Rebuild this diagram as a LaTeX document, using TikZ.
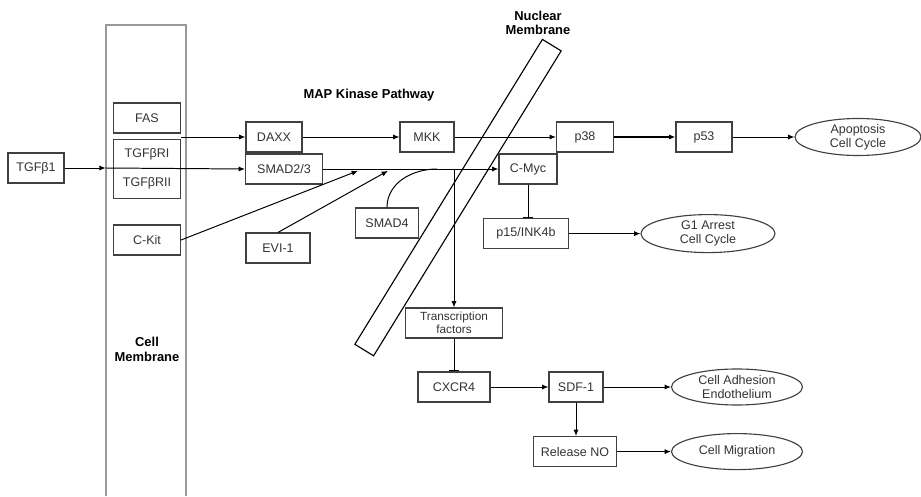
\documentclass[tikz,border=0pt]{standalone}
\usepackage{fontspec}
\setmainfont{Liberation Sans}
\usetikzlibrary{arrows.meta, shapes.geometric}

\begin{document}
\begin{tikzpicture}[
    font=\fontsize{8.9}{10}\selectfont,
    >={Latex[length=1.6mm, width=1.3mm]},
    box/.style={draw=black!75, line width=0.8pt, minimum height=0.75cm, inner sep=1pt, text=black!80},
    oval/.style={ellipse, draw=black!75, line width=0.8pt, minimum width=3.275cm, minimum height=0.9cm, inner sep=0pt, align=center, text=black!80},
    heading/.style={font=\fontsize{9.2}{10.5}\selectfont\bfseries, align=center},
    link/.style={line width=0.7pt},
    stop/.style={line width=0.7pt, -{Bar[width=2.6mm]}},
]
    \useasboundingbox (0, 0) rectangle (23.025, 12.4);

    % membranes
    \node[minimum width=2cm, minimum height=11.775cm, inner sep=0pt] (cellmem) at (3.65, 5.8875) {};
    \draw[black!40, line width=1.6pt] (cellmem.south west) -- (cellmem.north west) -- (cellmem.north east) -- (cellmem.south east);
    \node[heading] (cellmemtext) at (3.675, 3.67) {Cell\\Membrane};
    \node[draw, rotate=58.4, minimum width=8.95cm, minimum height=0.55cm, line width=0.8pt] (nucmem) at (11.45, 7.46) {};
    \node[heading] (nucmemtext) at (13.45, 11.83) {Nuclear\\Membrane};
    \node[heading] (maptext) at (9.225, 10.02) {MAP Kinase Pathway};

    \node[box, minimum width=1.4cm] (tgfb1) at (0.9, 8.2) {TGFβ1};
    \node[box, minimum width=1.675cm] (fas) at (3.675, 9.45) {FAS};
    \node[box, minimum width=1.675cm, minimum height=1.475cm, align=center] (tgfbr) at (3.675, 8.175) {TGFβRI\\[10.5pt]TGFβRII};
    \node[box, minimum width=1.675cm] (ckit) at (3.675, 6.4) {C-Kit};

    \node[box, minimum width=1.4cm] (daxx) at (6.85, 8.975) {DAXX};
    \node[box, minimum width=1.925cm] (smad23) at (7.1, 8.175) {SMAD2/3};
    \node[box, minimum width=1.6cm] (evi1) at (6.95, 6.2) {EVI-1};
    \node[box, minimum width=1.575cm] (smad4) at (9.675, 6.825) {SMAD4};
    \node[box, minimum width=1.35cm] (mkk) at (10.675, 8.975) {MKK};

    \node[box, minimum width=1.425cm] (p38) at (14.625, 8.975) {p38};
    \node[box, minimum width=1.4cm] (p53) at (17.6, 8.975) {p53};
    \node[oval, minimum width=3.15cm, minimum height=0.925cm] (apoptosis) at (21.45, 8.975) {Apoptosis\\Cell Cycle};
    \node[box, minimum width=1.45cm] (cmyc) at (13.2, 8.175) {C-Myc};
    \node[box, minimum width=2.125cm] (p15) at (13.15, 6.56) {p15/INK4b};
    \node[oval, minimum width=3.35cm, minimum height=0.95cm] (g1arrest) at (17.7, 6.56) {G1 Arrest\\Cell Cycle};

    \node[box, minimum width=2.425cm, align=center, font=\fontsize{8.4}{9.3}\selectfont] (tfactors) at (11.35, 4.325) {Transcription\\factors};
    \node[box, minimum width=1.8cm] (cxcr4) at (11.35, 2.725) {CXCR4};
    \node[box, minimum width=1.35cm] (sdf1) at (14.4, 2.725) {SDF-1};
    \node[oval] (adhesion) at (18.425, 2.725) {Cell Adhesion\\Endothelium};
    \node[box, minimum width=2.075cm] (releaseno) at (14.375, 1.11) {Release NO};
    \node[oval] (migration) at (18.425, 1.11) {Cell Migration};

    \coordinate (ckitin) at (8.95, 8.13);
    \coordinate (evi1in) at (9.7, 8.13);
    \coordinate (smad4in) at (10.925, 8.175);
    \coordinate (split) at (11.35, 8.175);

    \draw[link, ->] (tgfb1.east) -- (cellmem.west |- tgfb1.east);
    \draw[link, ->] (cellmem.west |- tgfb1.east) -- (smad23.west);
    \draw[link, ->] (fas.east |- daxx.west) -- (daxx.west);
    \draw[link, ->] (daxx.east) -- (mkk.west);
    \draw[link, ->] (mkk.east) -- (p38.west);
    \draw[line width=1.1pt, ->] (p38.east) -- (p53.west);
    \draw[link, ->] (p53.east) -- (apoptosis.west);

    \draw[link, ->] (smad23.east) -- (cmyc.west);
    \draw[link, ->] (ckit.east) -- (ckitin);
    \draw[link, ->] (evi1.north) -- (evi1in);
    \draw[link] (smad4.north) to[out=90, in=180] (smad4in);
    \draw[link, ->] (split) -- (tfactors.north);

    \draw[stop] (cmyc.south) -- (cmyc.south |- p15.north);
    \draw[link, ->] (p15.east) -- (g1arrest.west);
    \draw[stop] (tfactors.south) -- (cxcr4.north);
    \draw[link, ->] (cxcr4.east) -- (sdf1.west);
    \draw[link, ->] (sdf1.east) -- (adhesion.west);
    \draw[link, ->] (sdf1.south) -- (sdf1.south |- releaseno.north);
    \draw[link, ->] (releaseno.east) -- (migration.west);
\end{tikzpicture}
\end{document}
